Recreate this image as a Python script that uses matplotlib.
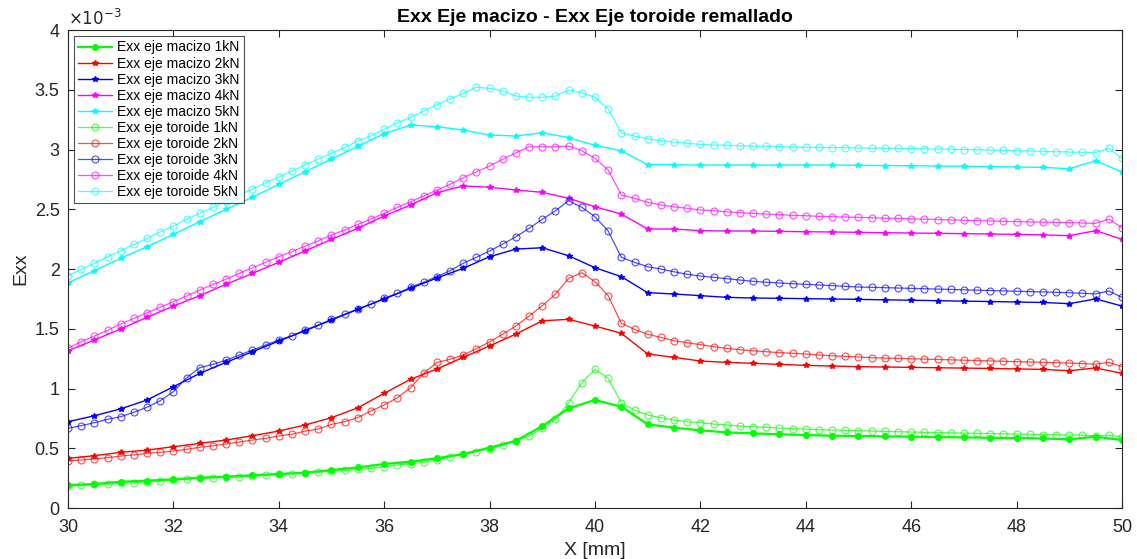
import numpy as np
import matplotlib
matplotlib.use("Agg")
import matplotlib.pyplot as plt
from matplotlib.ticker import FuncFormatter, MultipleLocator

plt.rcParams['font.family'] = ['Liberation Sans', 'DejaVu Sans']

# Position along the shaft [mm]
x_macizo = np.arange(30.0, 50.0001, 0.5)
x_toroide = np.arange(30.0, 50.0001, 0.25)

# Strain Exx (x1e-3) along the solid shaft, per load
macizo_1kN = [0.192, 0.201, 0.220, 0.229, 0.240, 0.254, 0.262, 0.274, 0.285, 0.296, 0.318,
              0.340, 0.368, 0.388, 0.416,
              0.452, 0.505, 0.563, 0.686, 0.834, 0.904, 0.848, 0.700, 0.672, 0.650,
              0.633, 0.625, 0.617, 0.611, 0.605,
              0.603, 0.600, 0.597, 0.594, 0.591, 0.588, 0.585, 0.582, 0.575, 0.597, 0.569]
macizo_2kN = [0.416, 0.438, 0.466, 0.485, 0.513, 0.541, 0.569, 0.605, 0.644, 0.695, 0.756,
              0.839, 0.960, 1.077, 1.163, 1.261,
              1.356, 1.456, 1.567, 1.579, 1.523, 1.462,
              1.289, 1.261,
              1.230, 1.219, 1.211, 1.202, 1.194, 1.188,
              1.183, 1.180, 1.177, 1.174, 1.171, 1.168, 1.164, 1.160, 1.149, 1.172, 1.127]
macizo_3kN = [0.722, 0.772, 0.830, 0.904, 1.015, 1.127, 1.219, 1.308, 1.397, 1.484,
              1.573, 1.663, 1.749, 1.838, 1.925, 2.006, 2.103, 2.167, 2.178, 2.111,
              2.011, 1.936, 1.802, 1.791, 1.777, 1.763, 1.757, 1.755, 1.752, 1.749,
              1.746, 1.742, 1.739, 1.735, 1.731, 1.728, 1.724, 1.720, 1.710, 1.750, 1.690]
macizo_4kN = [1.316, 1.406, 1.498, 1.596, 1.690, 1.777, 1.872, 1.964, 2.056, 2.151, 2.249, 2.341, 2.444, 2.536,
              2.638, 2.695, 2.684, 2.661, 2.642, 2.592, 2.521, 2.460, 2.335, 2.335,
              2.321, 2.318, 2.318, 2.315, 2.312, 2.310,
              2.307, 2.304, 2.301, 2.299, 2.296, 2.293, 2.290, 2.286, 2.279, 2.321, 2.249]
macizo_5kN = [1.885, 1.986, 2.089, 2.187, 2.290, 2.396, 2.500, 2.600, 2.709, 2.814,
              2.921, 3.026, 3.133, 3.205, 3.191, 3.163, 3.121, 3.113, 3.141, 3.099,
              3.035, 2.990, 2.873, 2.873, 2.870, 2.870, 2.870, 2.870, 2.870, 2.870,
              2.868, 2.866, 2.864, 2.862, 2.860, 2.857, 2.854, 2.850, 2.840, 2.906, 2.812]

# Strain Exx (x1e-3) along the remeshed toroid shaft, per load
toroide_1kN = [0.184, 0.190, 0.198, 0.200, 0.207, 0.212, 0.220, 0.226, 0.234, 0.240, 0.249, 0.254,
               0.257, 0.262, 0.268, 0.274, 0.282, 0.287, 0.292, 0.300, 0.308, 0.315, 0.325,
               0.332, 0.346, 0.360, 0.370, 0.382, 0.402,
               0.429, 0.450, 0.471, 0.498, 0.527, 0.562, 0.603, 0.667, 0.742, 0.881,
               1.049, 1.161, 1.085, 0.881, 0.820, 0.778, 0.756, 0.736, 0.722, 0.714,
               0.703, 0.695, 0.686, 0.680, 0.675, 0.669, 0.664, 0.661, 0.655, 0.653, 0.650, 0.647,
               0.644, 0.641, 0.638, 0.636, 0.633, 0.631, 0.629, 0.627, 0.625, 0.623,
               0.621, 0.619, 0.617, 0.615, 0.613, 0.611, 0.609, 0.605, 0.608, 0.597]
toroide_2kN = [0.393, 0.402, 0.410, 0.421, 0.435, 0.444, 0.458, 0.466, 0.477, 0.491,
               0.508, 0.521, 0.536, 0.552, 0.569, 0.583, 0.603, 0.617, 0.644, 0.661,
               0.700, 0.722, 0.757, 0.812, 0.862, 0.923, 1.007, 1.127, 1.219,
               1.244, 1.280, 1.334,
               1.390, 1.455, 1.523, 1.607, 1.693, 1.791, 1.922, 1.969, 1.894, 1.777,
               1.546, 1.495, 1.454, 1.428, 1.400, 1.383, 1.367,
               1.350, 1.336, 1.325, 1.316, 1.308, 1.300, 1.295, 1.289, 1.280, 1.274, 1.269, 1.264,
               1.258, 1.255, 1.252, 1.249, 1.246, 1.243, 1.240, 1.237, 1.234, 1.231,
               1.228, 1.225, 1.222, 1.219, 1.216, 1.213, 1.209, 1.204, 1.219, 1.183]
toroide_3kN = [0.667, 0.689, 0.714, 0.742, 0.764, 0.801, 0.843, 0.898, 0.973,
               1.090, 1.174, 1.202, 1.238, 1.280, 1.322, 1.364, 1.406, 1.442, 1.490,
               1.531, 1.579, 1.623, 1.665, 1.707, 1.755, 1.797, 1.847,
               1.890, 1.937,
               1.986, 2.048, 2.098, 2.151, 2.209, 2.270, 2.341, 2.416, 2.488, 2.572,
               2.516, 2.438, 2.318, 2.098, 2.056, 2.019, 2.000, 1.977, 1.956, 1.941,
               1.931, 1.919, 1.908, 1.897, 1.889, 1.883, 1.877, 1.872, 1.866, 1.861, 1.855, 1.849,
               1.847, 1.844, 1.841, 1.838, 1.835, 1.832, 1.829, 1.826, 1.823, 1.820,
               1.817, 1.814, 1.811, 1.808, 1.805, 1.802, 1.797, 1.792, 1.816, 1.763]
toroide_4kN = [1.336, 1.392, 1.439, 1.487, 1.540, 1.587, 1.634, 1.680, 1.727, 1.774,
               1.824, 1.872, 1.914, 1.964, 2.011, 2.056, 2.103, 2.145, 2.192, 2.237,
               2.285, 2.326, 2.374, 2.418, 2.466, 2.516, 2.563,
               2.611, 2.661, 2.709, 2.764, 2.814, 2.862, 2.918, 2.973, 3.023, 3.023,
               3.023, 3.029, 2.990, 2.926, 2.828, 2.619, 2.592, 2.558, 2.536, 2.521,
               2.508, 2.494, 2.488, 2.479, 2.471, 2.466, 2.460, 2.455, 2.449, 2.446, 2.441, 2.438, 2.435, 2.432,
               2.429, 2.426, 2.423, 2.420, 2.417, 2.414, 2.411, 2.408, 2.405, 2.402,
               2.399, 2.397, 2.394, 2.392, 2.390, 2.388, 2.385, 2.382, 2.418, 2.346]
toroide_5kN = [1.944, 1.997, 2.048, 2.103, 2.151, 2.207, 2.257, 2.310, 2.360, 2.416,
               2.466, 2.516, 2.569, 2.619, 2.669, 2.722, 2.770, 2.820, 2.870, 2.921,
               2.968, 3.018, 3.071, 3.115, 3.169, 3.224,
               3.269, 3.322, 3.375, 3.422, 3.470, 3.521, 3.512, 3.490, 3.448, 3.437,
               3.437, 3.448, 3.498, 3.475, 3.437, 3.339, 3.140, 3.113, 3.088, 3.074, 3.063,
               3.052, 3.043, 3.038, 3.035, 3.032, 3.029, 3.027, 3.024, 3.021, 3.018, 3.018, 3.016, 3.016, 3.013,
               3.012, 3.011, 3.010, 3.008, 3.006, 3.004, 3.002, 3.000, 2.998, 2.995,
               2.992, 2.990, 2.988, 2.985, 2.982, 2.979, 2.977, 2.975, 3.010, 2.926]

loads = ["1kN", "2kN", "3kN", "4kN", "5kN"]
colors = ["#00ff00", "#ff0000", "#0000ff", "#ff00ff", "#00ffff"]
macizo = [macizo_1kN, macizo_2kN, macizo_3kN, macizo_4kN, macizo_5kN]
toroide = [toroide_1kN, toroide_2kN, toroide_3kN, toroide_4kN, toroide_5kN]

fig = plt.figure(figsize=(11.37, 5.59), dpi=100)
ax = fig.add_axes([0.0598, 0.0912, 0.9270, 0.8551])

for i, (load, col, ys) in enumerate(zip(loads, colors, macizo)):
    if i == 0:
        style = dict(lw=1.6, marker='.', ms=8)
    else:
        style = dict(lw=1.0, marker='*', ms=4)
    ax.plot(x_macizo, np.array(ys) * 1e-3, color=col, mec=col, mfc=col,
            label=f"Exx eje macizo {load}", **style)
for load, col, ys in zip(loads, colors, toroide):
    ax.plot(x_toroide, np.array(ys) * 1e-3, color=col, lw=0.9, alpha=0.7, marker='o',
            ms=5, mfc='none', mec=col, mew=0.8, label=f"Exx eje toroide {load}")

ax.set_xlim(30, 50)
ax.set_ylim(0, 4e-3)
ax.xaxis.set_major_locator(MultipleLocator(2))
ax.yaxis.set_major_locator(MultipleLocator(0.5e-3))
ax.yaxis.set_major_formatter(FuncFormatter(lambda v, p: f"{v * 1e3:g}"))
ax.tick_params(direction='in', top=True, right=True, labelsize=13, length=5,
               color='#262626', labelcolor='#262626', width=0.8)
ax.tick_params(axis='x', pad=8)
ax.tick_params(axis='y', pad=6)
for sp in ax.spines.values():
    sp.set_color('#262626')
    sp.set_linewidth(0.8)

ax.text(0.0, 1.005, r"$\times10^{-3}$", transform=ax.transAxes, fontsize=12,
        ha='left', va='bottom', color='#262626')
ax.set_title("Exx Eje macizo - Exx Eje toroide remallado", fontsize=14,
             fontweight='bold', pad=6)
ax.set_xlabel("X [mm]", fontsize=14, color='#262626', labelpad=4)
ax.set_ylabel("Exx", fontsize=14, color='#262626', labelpad=4)

leg = ax.legend(loc='upper left', fontsize=10, frameon=True, fancybox=False,
                edgecolor='#262626', borderpad=0.3, labelspacing=0.15,
                handlelength=2.4, handletextpad=0.4, borderaxespad=0.45)
leg.get_frame().set_linewidth(0.8)

fig.savefig("out.png", dpi=100, facecolor='white')
